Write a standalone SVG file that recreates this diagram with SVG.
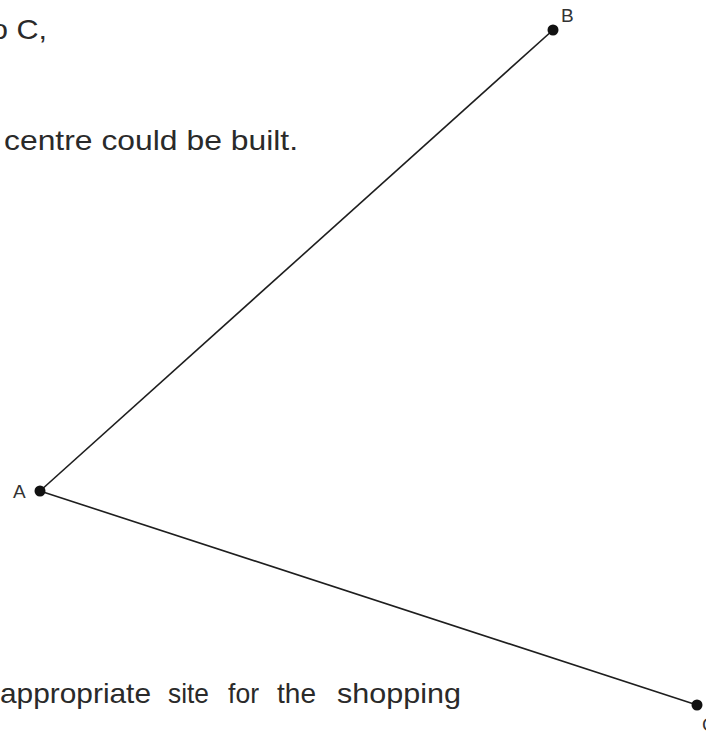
<svg xmlns="http://www.w3.org/2000/svg" width="706" height="732" viewBox="0 0 706 732">
<style>
.t{font-family:"Liberation Sans",Arial,sans-serif;font-size:28px;fill:#2a2a2a}
.lbl{font-family:"Liberation Sans",Arial,sans-serif;font-size:19px;fill:#333}
.edge{stroke:#1e1e1e;stroke-width:1.6;fill:none}
.dot{fill:#111}
</style>
<rect width="706" height="732" fill="#fff"/>
<g id="text">
<text class="t" x="-9" y="39" textLength="56" lengthAdjust="spacingAndGlyphs">o C,</text>
<text class="t" x="4" y="150" textLength="294" lengthAdjust="spacingAndGlyphs">centre could be built.</text>
<text class="t" x="0" y="703" textLength="151" lengthAdjust="spacingAndGlyphs">appropriate</text>
<text class="t" x="168" y="703" textLength="41" lengthAdjust="spacingAndGlyphs">site</text>
<text class="t" x="228" y="703" textLength="31" lengthAdjust="spacingAndGlyphs">for</text>
<text class="t" x="277" y="703" textLength="39" lengthAdjust="spacingAndGlyphs">the</text>
<text class="t" x="337" y="703" textLength="124" lengthAdjust="spacingAndGlyphs">shopping</text>
</g>
<g id="connectors">
<line class="edge" x1="553" y1="30" x2="40" y2="491"/>
<line class="edge" x1="40" y1="491" x2="697" y2="705"/>
</g>
<g id="node-B">
<circle class="dot" cx="553" cy="30" r="5.5"/>
<text class="lbl" x="561" y="22">B</text>
</g>
<g id="node-A">
<circle class="dot" cx="40" cy="491" r="5.5"/>
<text class="lbl" x="13" y="498">A</text>
</g>
<g id="node-C">
<circle class="dot" cx="697" cy="705" r="5.5"/>
<text class="lbl" x="702" y="731">C</text>
</g>
</svg>
